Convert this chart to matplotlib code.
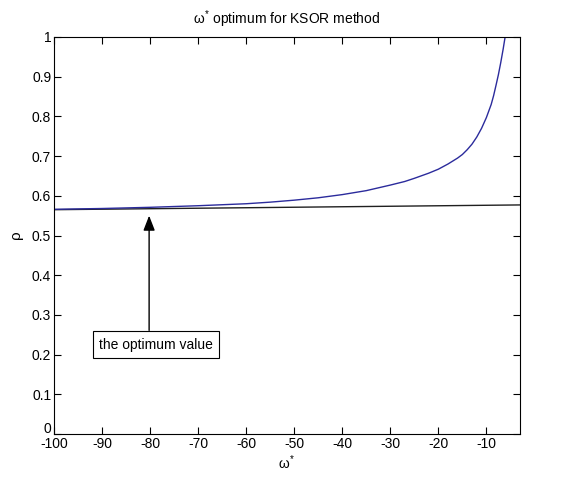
import matplotlib
matplotlib.use("Agg")
import matplotlib.pyplot as plt
from matplotlib.transforms import ScaledTranslation

plt.rcParams['font.family'] = ['Liberation Sans', 'DejaVu Sans']
plt.rcParams['mathtext.fontset'] = 'custom'
plt.rcParams['mathtext.rm'] = 'Liberation Sans'
plt.rcParams['mathtext.it'] = 'Liberation Sans'
plt.rcParams['axes.unicode_minus'] = False

# Blue curve: spectral radius vs omega*
omega = [-100, -90, -80, -70, -60, -55, -50, -45, -40, -35, -30, -27, -25, -22,
         -20, -18, -16, -15, -14, -13, -12, -11, -10, -9, -8.5, -8, -7.5, -7, -6.5, -6.1]
rho = [0.566, 0.568, 0.571, 0.575, 0.580, 0.584, 0.589, 0.595, 0.603, 0.613, 0.627,
       0.636, 0.644, 0.657, 0.667, 0.680, 0.695, 0.704, 0.716, 0.730, 0.748, 0.770,
       0.797, 0.830, 0.852, 0.878, 0.905, 0.936, 0.970, 1.000]

# Black reference line
ref_x = [-100, -3]
ref_y = [0.565, 0.577]

x_ticks = [-100, -90, -80, -70, -60, -50, -40, -30, -20, -10]
y_ticks = [0, 0.1, 0.2, 0.3, 0.4, 0.5, 0.6, 0.7, 0.8, 0.9, 1]
y_tick_labels = ['0', '0.1', '0.2', '0.3', '0.4', '0.5', '0.6', '0.7', '0.8', '0.9', '1']

title = r'$\omega^{*}$ optimum for KSOR method'
xlabel = r'$\omega^{*}$'
ylabel = r'$\rho$'
note = 'the optimum value'
arrow_tip = (-80.2, 0.55)
arrow_tail = (-80.2, 0.261)
note_pos = (-78.8, 0.225)

fig = plt.figure(figsize=(5.64, 4.78), dpi=100)
ax = fig.add_axes([54/564, 1 - 434/478, (520-54)/564, (434-37)/478])

ax.plot(ref_x, ref_y, color='#202020', lw=1.0)
ax.plot(omega, rho, color='#2b2b9c', lw=1.0)

ax.set_xlim(-100, -3)
ax.set_ylim(0, 1)
ax.set_xticks(x_ticks)
ax.set_yticks(y_ticks)
ax.set_yticklabels(y_tick_labels)
ax.tick_params(direction='in', top=True, right=True, length=5, width=0.8,
               labelsize=10, pad=2)
for s in ax.spines.values():
    s.set_linewidth(0.8)

# MATLAB places the "0" y label slightly above the corner
zero_lbl = ax.get_yticklabels()[0]
zero_lbl.set_transform(zero_lbl.get_transform() + ScaledTranslation(0, 5/72, fig.dpi_scale_trans))

ax.set_title(title, fontsize=10, pad=9)
ax.set_xlabel(xlabel, fontsize=10, labelpad=2)
ax.set_ylabel(ylabel, fontsize=11, labelpad=4)

ax.annotate('', xy=arrow_tip, xytext=arrow_tail,
            arrowprops=dict(arrowstyle='-|>,head_length=0.9,head_width=0.35',
                            color='black', lw=1.0, shrinkA=0, shrinkB=0))
ax.text(note_pos[0], note_pos[1], note, ha='center', va='center', fontsize=10,
        bbox=dict(boxstyle='square,pad=0.45', fc='white', ec='black', lw=0.8))

fig.savefig('out.png', dpi=100)
